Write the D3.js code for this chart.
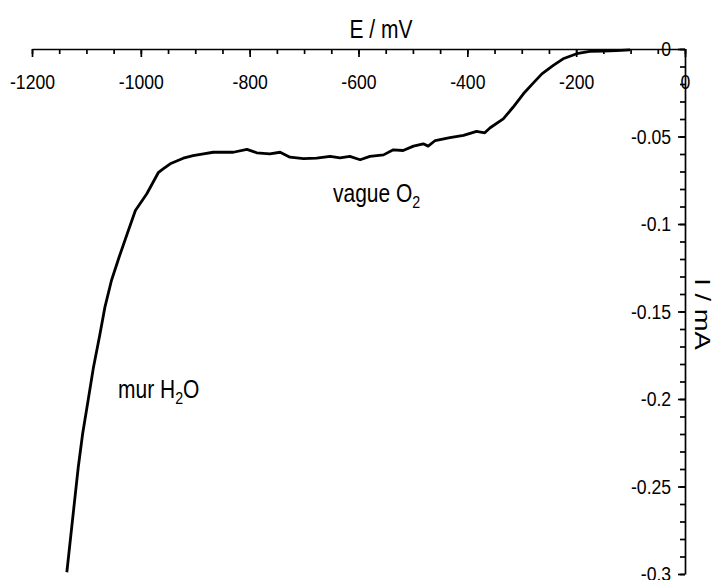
<!DOCTYPE html>
<html>
<head>
<meta charset="utf-8">
<script src="https://cdn.jsdelivr.net/npm/d3@7"></script>
<style>
  body { margin: 0; background: #fff; }
  svg text { font-family: "Liberation Sans", Arial, sans-serif; fill: #000; }
</style>
</head>
<body>
<svg id="chart" width="715" height="580"></svg>
<script>
// Voltammogram: reduction current vs potential
var potential = [-1136, -1125, -1115, -1107, -1097, -1087, -1075, -1066, -1054,
                 -1040, -1025, -1010, -989, -968, -959, -946, -934, -922, -904,
                 -885, -867, -848, -830, -805, -787, -763, -744, -726, -701,
                 -677, -652, -634, -616, -597, -579, -554, -536, -518, -499,
                 -481, -472, -459, -432, -407, -383, -368, -358, -334, -316,
                 -297, -279, -263, -242, -224, -199, -175, -150, -126, -101];
var current = [-0.299, -0.2675, -0.239, -0.220, -0.201, -0.1818, -0.1627, -0.1475, -0.1323,
               -0.119, -0.1056, -0.0923, -0.0827, -0.0707, -0.0685, -0.0656, -0.0640, -0.0624, -0.0609,
               -0.0599, -0.0590, -0.0590, -0.0590, -0.0574, -0.0593, -0.0599, -0.0590, -0.0618, -0.0627,
               -0.0624, -0.0613, -0.0622, -0.0614, -0.0633, -0.0614, -0.0605, -0.0576, -0.0580, -0.0555,
               -0.0542, -0.0555, -0.0523, -0.0507, -0.0494, -0.0471, -0.0479, -0.0450, -0.0399, -0.0333,
               -0.0256, -0.0195, -0.0142, -0.0094, -0.0056, -0.0027, -0.0014, -0.0012, -0.0009, -0.0005];

var xTicks = [-1200, -1000, -800, -600, -400, -200, 0];
var xTickLabels = ["-1200", "-1000", "-800", "-600", "-400", "-200", "0"];
var yTicks = [0, -0.05, -0.1, -0.15, -0.2, -0.25, -0.3];
var yTickLabels = ["0", "-0.05", "-0.1", "-0.15", "-0.2", "-0.25", "-0.3"];

var xTitle = "E / mV";
var yTitle = "I / mA";

var squeeze = 0.84; // picture is stretched vertically, so text is narrow

var svg = d3.select("#chart");

var x = d3.scaleLinear().domain([-1200, 0]).range([32, 685]);
var y = d3.scaleLinear().domain([0, -0.3]).range([49, 574]);

// minor ticks (no labels)
var xMinor = d3.range(-1200, 1, 50);
var yMinor = d3.range(0, 31).map(function(i) { return -i / 100; });

svg.append("g")
    .attr("transform", "translate(0," + y(0) + ")")
    .call(d3.axisBottom(x).tickValues(xMinor).tickSize(5).tickSizeOuter(0).tickFormat(""))
    .call(function(g) { g.select(".domain").remove(); });

svg.append("g")
    .attr("transform", "translate(" + x(0) + ",0)")
    .call(d3.axisLeft(y).tickValues(yMinor).tickSize(5).tickSizeOuter(0).tickFormat(""))
    .call(function(g) { g.select(".domain").remove(); });

// top axis (E)
var xAxis = svg.append("g")
    .attr("class", "x-axis")
    .attr("transform", "translate(0," + y(0) + ")")
    .call(d3.axisBottom(x).tickValues(xTicks).tickSize(8).tickSizeOuter(0)
        .tickFormat(function(d, i) { return xTickLabels[i]; }));

xAxis.selectAll("text")
    .attr("y", 25)
    .attr("font-size", 21)
    .attr("transform", "scale(" + squeeze + ",1)");

// right axis (I), ticks and labels inside
var yAxis = svg.append("g")
    .attr("class", "y-axis")
    .attr("transform", "translate(" + x(0) + ",0)")
    .call(d3.axisLeft(y).tickValues(yTicks).tickSize(7).tickSizeOuter(0)
        .tickFormat(function(d, i) { return yTickLabels[i]; }));

yAxis.selectAll("text")
    .attr("x", -16.5)
    .attr("font-size", 21)
    .attr("transform", "scale(" + squeeze + ",1)");

svg.selectAll(".domain, .tick line")
    .attr("stroke", "#000")
    .attr("stroke-width", 1.7);

// axis titles
svg.append("text")
    .attr("transform", "translate(381,38) scale(" + squeeze + ",1)")
    .attr("text-anchor", "middle")
    .attr("font-size", 25)
    .text(xTitle);

svg.append("text")
    .attr("transform", "translate(695,314) rotate(90) scale(" + (1 / squeeze) + ",1)")
    .attr("text-anchor", "middle")
    .attr("font-size", 23)
    .text(yTitle);

// curve
var points = potential.map(function(e, i) { return [e, current[i]]; });

svg.append("path")
    .datum(points)
    .attr("fill", "none")
    .attr("stroke", "#000")
    .attr("stroke-width", 2.8)
    .attr("stroke-linejoin", "round")
    .attr("d", d3.line()
        .x(function(d) { return x(d[0]); })
        .y(function(d) { return y(d[1]); }));

// annotations with subscripts
function addLabel(px, py, before, sub, after) {
    var t = svg.append("text")
        .attr("transform", "translate(" + px + "," + py + ") scale(" + squeeze + ",1)")
        .attr("font-size", 25);
    t.append("tspan").text(before);
    t.append("tspan").attr("font-size", 17).attr("dy", 6).text(sub);
    t.append("tspan").attr("dy", -6).text(after);
}

addLabel(333, 202, "vague O", "2", "");
addLabel(118, 398, "mur H", "2", "O");
</script>
</body>
</html>
